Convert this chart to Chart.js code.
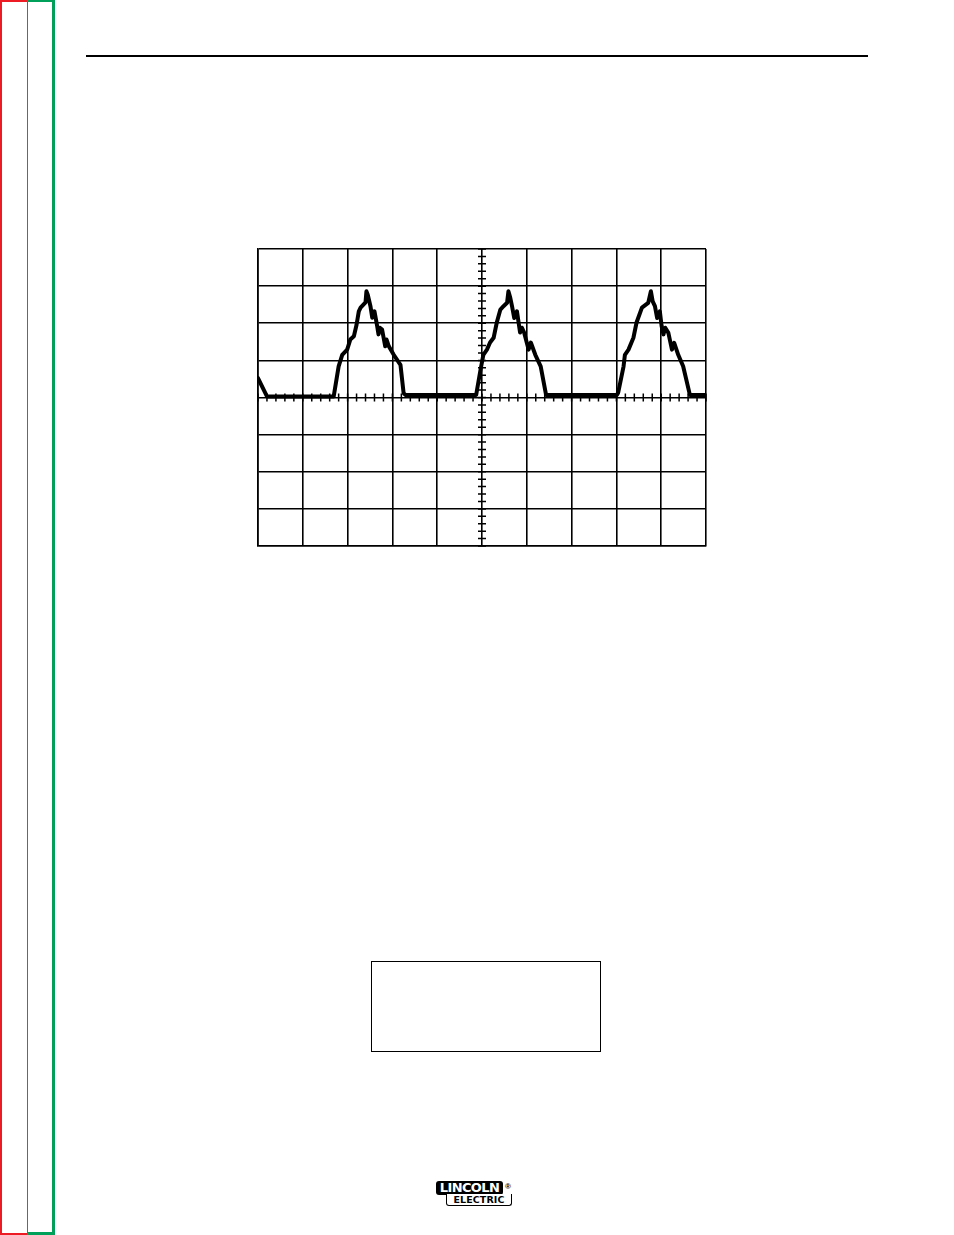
<!DOCTYPE html>
<html>
<head>
<meta charset="utf-8">
<script src="https://cdn.jsdelivr.net/npm/chart.js@4.4.1/dist/chart.umd.min.js"></script>
<style>
    html, body { margin: 0; padding: 0; background: #fff; }
    body { width: 954px; height: 1235px; position: relative; overflow: hidden; font-family: "Liberation Sans", Arial, sans-serif; }
    .bar { position: absolute; }
    #scope-wrap { position: absolute; left: 248px; top: 239px; width: 468px; height: 317px; }
    .blank-box { position: absolute; left: 371px; top: 961px; width: 228px; height: 89px; border: 1.5px solid #000; }
    .logo { position: absolute; left: 436px; top: 1181px; width: 80px; height: 26px; }
    .logo .top { position: absolute; left: 0; top: 0; width: 67px; height: 14px; background: #000; color: #fff; border-radius: 3px;
        font-family: "DejaVu Sans", sans-serif; font-weight: bold; font-size: 13px; line-height: 14px; text-align: center; letter-spacing: -0.6px; }
    .logo .bot { position: absolute; left: 10px; top: 13px; width: 64px; height: 11px; border: 1.5px solid #000; border-top: none; border-radius: 0 0 3px 3px;
        background: #fff; color: #000; font-family: "DejaVu Sans", sans-serif; font-weight: bold; font-size: 9.5px; line-height: 11px; text-align: center; letter-spacing: 0.1px; }
    .logo .reg { position: absolute; left: 69px; top: 1px; font-size: 8px; font-weight: bold; }
</style>
</head>
<body>
<!-- side margin stripes -->
<div class="bar" style="left:0;top:0;width:2px;height:1235px;background:#ed1c24"></div>
<div class="bar" style="left:0;top:0;width:27px;height:2px;background:#ed1c24"></div>
<div class="bar" style="left:0;top:1233px;width:27px;height:2px;background:#ed1c24"></div>
<div class="bar" style="left:27px;top:0;width:1px;height:1235px;background:#00a05a"></div>
<div class="bar" style="left:27px;top:0;width:28px;height:2px;background:#00a05a"></div>
<div class="bar" style="left:27px;top:1232px;width:28px;height:3px;background:#00a05a"></div>
<div class="bar" style="left:52px;top:0;width:3px;height:1235px;background:#00a05a"></div>
<!-- header rule -->
<div class="bar" style="left:86px;top:55px;width:782px;height:2px;background:#000"></div>

<div id="scope-wrap"><canvas id="scope"></canvas></div>

<div class="blank-box"></div>

<div class="logo">
    <div class="top">LINCOLN</div>
    <div class="bot">ELECTRIC</div>
    <div class="reg">®</div>
</div>

<script>
// scope screen: 10 horizontal divisions, 8 vertical divisions (+4 .. -4)
const xDivs = [0, 10];
const yDivs = [-4, 4];

// trace, in divisions
const traceX = [
    0, 0.2, 1.69, 1.80, 1.88, 1.99, 2.06, 2.14, 2.20, 2.25, 2.29, 2.40, 2.42, 2.45, 2.51, 2.55, 2.60,
    2.66, 2.69, 2.72, 2.77, 2.84, 2.87, 2.92, 3.03, 3.18, 3.25, 3.29,
    4.87, 4.96, 5.03, 5.11, 5.18, 5.26, 5.33, 5.41, 5.48, 5.56, 5.59, 5.63, 5.67, 5.72, 5.78,
    5.85, 5.89, 5.94, 6.04, 6.09, 6.19, 6.31, 6.43,
    8.01, 8.04, 8.16, 8.19, 8.27, 8.38, 8.45, 8.57, 8.71, 8.77, 8.81, 8.86, 8.91, 8.97,
    9.01, 9.05, 9.09, 9.16, 9.24, 9.29, 9.38, 9.49, 9.64, 10
];
const traceY = [
    0.52, 0.03, 0.03, 0.84, 1.15, 1.29, 1.56, 1.65, 1.96, 2.32, 2.42, 2.56, 2.86, 2.77, 2.46, 2.15, 2.32,
    1.92, 1.70, 1.88, 1.83, 1.38, 1.56, 1.38, 1.15, 0.88, 0.12, 0.07,
    0.07, 0.70, 1.15, 1.29, 1.48, 1.61, 2.02, 2.37, 2.46, 2.55, 2.86, 2.69, 2.46, 2.14, 2.32,
    1.75, 1.88, 1.75, 1.29, 1.48, 1.15, 0.84, 0.07,
    0.07, 0.13, 0.84, 1.15, 1.29, 1.61, 2.02, 2.42, 2.55, 2.86, 2.59, 2.46, 2.14, 2.32,
    1.92, 1.70, 1.88, 1.74, 1.29, 1.47, 1.15, 0.84, 0.07, 0.07
];

// minor tick marks on the centre cross-hair, every 1/5 division
const centreTicks = {
    id: 'centreTicks',
    afterDatasetsDraw(chart) {
        const { ctx, scales: { x, y } } = chart;
        const cx = x.getPixelForValue(5);
        const cy = y.getPixelForValue(0);
        ctx.save();
        ctx.strokeStyle = '#000';
        ctx.lineWidth = 1.5;
        ctx.beginPath();
        for (let v = xDivs[0]; v <= xDivs[1] + 0.001; v += 0.2) {
            const px = x.getPixelForValue(v);
            ctx.moveTo(px, cy - 4);
            ctx.lineTo(px, cy + 4);
        }
        for (let v = yDivs[0]; v <= yDivs[1] + 0.001; v += 0.2) {
            const py = y.getPixelForValue(v);
            ctx.moveTo(cx - 4, py);
            ctx.lineTo(cx + 4, py);
        }
        ctx.stroke();
        ctx.restore();
    }
};

const gridOpts = { color: '#000', lineWidth: 1.6, drawTicks: false };

new Chart(document.getElementById('scope'), {
    type: 'line',
    data: {
        datasets: [{
            data: traceX.map((v, i) => ({ x: v, y: traceY[i] })),
            borderColor: '#000',
            borderWidth: 4,
            pointRadius: 0,
            tension: 0,
            borderJoinStyle: 'round',
            borderCapStyle: 'round'
        }]
    },
    options: {
        responsive: true,
        maintainAspectRatio: false,
        animation: false,
        layout: { padding: 10 },
        scales: {
            x: {
                type: 'linear', min: xDivs[0], max: xDivs[1],
                grid: gridOpts,
                border: { color: '#000', width: 1.6 },
                ticks: { display: false, stepSize: 1 }
            },
            y: {
                type: 'linear', min: yDivs[0], max: yDivs[1],
                grid: gridOpts,
                border: { color: '#000', width: 1.6 },
                ticks: { display: false, stepSize: 1 }
            }
        },
        plugins: {
            legend: { display: false },
            tooltip: { enabled: false }
        }
    },
    plugins: [centreTicks]
});
</script>
</body>
</html>
